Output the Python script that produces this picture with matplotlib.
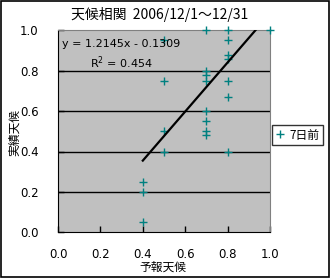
import matplotlib
matplotlib.use("Agg")
import matplotlib.pyplot as plt
import numpy as np

# data: forecast (x) vs actual (y)
forecast = [0.4, 0.4, 0.4,
            0.5, 0.5, 0.5, 0.5,
            0.7, 0.7, 0.7, 0.7, 0.7, 0.7, 0.7, 0.7,
            0.8, 0.8, 0.8, 0.8, 0.8, 0.8, 0.8,
            1.0]
actual = [0.05, 0.20, 0.25,
          0.40, 0.50, 0.75, 0.95,
          1.00, 0.80, 0.78, 0.75, 0.60, 0.55, 0.50, 0.48,
          1.00, 0.95, 0.88, 0.86, 0.75, 0.67, 0.40,
          1.00]
slope = 1.2145
intercept = -0.1309
r2 = 0.454
ticks = [0.0, 0.2, 0.4, 0.6, 0.8, 1.0]
series_name = "7日前"

plt.rcParams['font.family'] = ['DejaVu Sans', 'Noto Sans CJK JP']
cjk = ['Noto Sans CJK JP', 'DejaVu Sans']

fig = plt.figure(figsize=(3.30, 2.78), dpi=100)
fig.patch.set_facecolor('white')
ax = fig.add_axes([58/330, 1 - 232.3/278, 212/330, 202/278])
ax.set_facecolor('#C0C0C0')

for v in ticks[1:-1]:
    ax.axhline(v, color='black', lw=1, zorder=1)

ax.plot(forecast, actual, linestyle='none', marker='+', color='#008080',
        markersize=6, markeredgewidth=1, zorder=3, label=series_name, clip_on=False)

x0 = min(forecast)
x1 = (1.0 - intercept) / slope
xs = np.array([x0, x1])
ax.plot(xs, slope * xs + intercept, color='black', lw=1.6, zorder=4)

ax.set_xlim(0, 1)
ax.set_ylim(0, 1)
ax.set_xticks(ticks)
ax.set_yticks(ticks)
ax.set_xticklabels([f"{t:.1f}" for t in ticks], fontsize=8.5)
ax.set_yticklabels([f"{t:.1f}" for t in ticks], fontsize=8.5)
ax.tick_params(direction='in', length=4, width=1, color='black')
ax.tick_params(axis='x', pad=11)
ax.tick_params(axis='y', pad=14)
for s in ['left', 'bottom']:
    ax.spines[s].set_color('black')
for s in ['top', 'right']:
    ax.spines[s].set_color('#808080')

ax.text(0.02, 0.93, f"y = {slope}x - {abs(intercept):.4f}", transform=ax.transAxes,
        fontsize=8, ha='left', va='center', zorder=5)
ax.text(0.15, 0.84, f"R$^2$ = {r2}", transform=ax.transAxes,
        fontsize=8, ha='left', va='center', zorder=5)

fig.text(160/330, 1 - 14/278, "天候相関  2006/12/1～12/31", ha='center', va='center',
         fontsize=10, family=cjk)
fig.text(163/330, 1 - 267/278, "予報天候", ha='center', va='center', fontsize=8.5, family=cjk)
fig.text(15/330, 1 - 133/278, "実績天候", ha='center', va='center', fontsize=8.5,
         rotation=90, family=cjk)

leg = fig.legend(loc='center left', bbox_to_anchor=(272/330, 1 - 135/278),
                 frameon=True, fancybox=False, handlelength=0.8, handletextpad=0.4,
                 borderpad=0.3, borderaxespad=0, prop={'family': cjk, 'size': 8.5})
leg.get_frame().set_edgecolor('black')
leg.get_frame().set_linewidth(1)

fig.add_artist(plt.Rectangle((0.002, 0.002), 0.995, 0.995, transform=fig.transFigure,
                             fill=False, edgecolor='black', lw=1.2))

fig.savefig('out.png', dpi=100)
